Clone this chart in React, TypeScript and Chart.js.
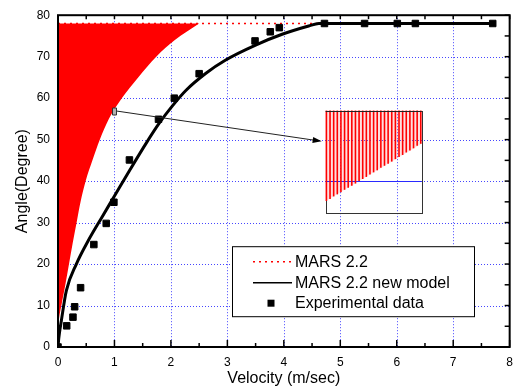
import React, { useEffect, useRef } from "react";
import { Chart, registerables } from "chart.js";

Chart.register(...registerables);

const FONT = "'Liberation Sans', Arial, Helvetica, sans-serif";

// ---- data ----
const xTickLabels = ["0", "1", "2", "3", "4", "5", "6", "7", "8"];
const yTickLabels = ["0", "10", "20", "30", "40", "50", "60", "70", "80"];

// MARS 2.2 (oscillating result: lower envelope of the dense red band, top at 78)
const marsEnvX = [0, 0.02, 0.06, 0.13, 0.195, 0.26, 0.33, 0.4, 0.49, 0.61, 0.74, 0.9, 1.13, 1.42, 1.74, 2.07, 2.5];
const marsEnvY = [4.5, 7.0, 10.0, 15.0, 20.0, 25.0, 30.0, 35.0, 40.0, 45.0, 50.0, 55.0, 60.0, 65.0, 70.0, 74.0, 78.0];
const marsTopX = [0, 7.7];
const marsTopY = [78, 78];

// MARS 2.2 new model
const newModelX = [0, 0.013, 0.06, 0.148, 0.325, 0.53, 0.765, 1.0, 1.265, 1.56, 1.79, 2.03, 2.26, 2.62, 2.97, 3.5, 3.97, 4.44, 4.62, 7.7];
const newModelY = [0, 2.0, 6.4, 13.6, 20.0, 25.5, 31.0, 36.4, 42.5, 49.1, 53.9, 58.2, 61.8, 66.0, 69.2, 72.8, 75.4, 77.4, 78.0, 78.0];

// Experimental data
const expX = [0, 0.154, 0.265, 0.295, 0.4, 0.635, 0.854, 0.99, 1.265, 1.78, 2.06, 2.5, 3.49, 3.76, 3.92, 4.72, 5.43, 6.01, 6.33, 7.7];
const expY = [0, 5.1, 7.2, 9.7, 14.3, 24.7, 29.8, 34.9, 45.1, 54.9, 60.0, 65.9, 73.8, 76.0, 77.0, 78.0, 78.0, 78.0, 78.0, 78.0];

// zoom inset annotation (data coordinates)
const insetXRange = [4.74, 6.44];
const insetYRange = [32.5, 57.0];
const insetBlueY = 40;
const insetLineBottoms = [35.2, 35.7, 36.3, 36.8, 37.3, 37.9, 38.4, 38.9, 39.4, 40.0, 40.5, 41.0, 41.6, 42.1, 42.6, 43.2, 43.7, 44.2, 44.7, 45.3, 45.8, 46.3, 46.9, 47.4, 47.9, 48.5, 49.0];
const arrowFrom = [1.0, 56.9];
const arrowTo = [4.67, 49.6];

const pts = (xs: number[], ys: number[]) => xs.map((v, i) => ({ x: v, y: ys[i] }));

const decor = {
  id: "decor",
  beforeDatasetsDraw(chart: any) {
    const { ctx, chartArea: a, scales } = chart;
    const x = scales.x, y = scales.y;
    ctx.save();
    ctx.strokeStyle = "rgba(50,50,255,0.9)";
    ctx.lineWidth = 1;
    ctx.setLineDash([1, 2]);
    x.ticks.forEach((t: any) => {
      if (t.value <= x.min || t.value >= x.max) return;
      const px = Math.round(x.getPixelForValue(t.value)) + 0.5;
      ctx.beginPath(); ctx.moveTo(px, a.top); ctx.lineTo(px, a.bottom); ctx.stroke();
    });
    y.ticks.forEach((t: any) => {
      if (t.value <= y.min || t.value >= y.max) return;
      const py = Math.round(y.getPixelForValue(t.value)) + 0.5;
      ctx.beginPath(); ctx.moveTo(a.left, py); ctx.lineTo(a.right, py); ctx.stroke();
    });
    ctx.restore();
  },
  afterDatasetsDraw(chart: any) {
    const { ctx, chartArea: a, scales } = chart;
    const x = scales.x, y = scales.y;
    ctx.save();

    // ---- inset ----
    const L = x.getPixelForValue(insetXRange[0]);
    const R = x.getPixelForValue(insetXRange[1]);
    const T = y.getPixelForValue(insetYRange[1]);
    const B = y.getPixelForValue(insetYRange[0]);
    const n = insetLineBottoms.length;
    ctx.fillStyle = "rgba(255,110,110,0.22)";
    ctx.beginPath();
    ctx.moveTo(L, T); ctx.lineTo(R, T);
    ctx.lineTo(R, y.getPixelForValue(insetLineBottoms[n - 1]));
    ctx.lineTo(L, y.getPixelForValue(insetLineBottoms[0]));
    ctx.closePath(); ctx.fill();
    ctx.strokeStyle = "#333"; ctx.lineWidth = 1;
    ctx.strokeRect(Math.round(L) + 0.5, Math.round(T) + 0.5, Math.round(R - L), Math.round(B - T));
    const by = Math.round(y.getPixelForValue(insetBlueY)) + 0.5;
    ctx.strokeStyle = "#2a2aff";
    ctx.beginPath(); ctx.moveTo(L, by); ctx.lineTo(R, by); ctx.stroke();
    ctx.strokeStyle = "#ff0000"; ctx.lineWidth = 1.6;
    insetLineBottoms.forEach((b, i) => {
      const px = L + 0.8 + ((R - L - 1.6) * i) / (n - 1);
      ctx.beginPath(); ctx.moveTo(px, T); ctx.lineTo(px, y.getPixelForValue(b)); ctx.stroke();
    });
    ctx.strokeStyle = "#222"; ctx.lineWidth = 1;
    ctx.beginPath(); ctx.moveTo(L, Math.round(T) + 0.5); ctx.lineTo(R, Math.round(T) + 0.5); ctx.stroke();

    // ---- arrow ----
    const ax0 = x.getPixelForValue(arrowFrom[0]), ay0 = y.getPixelForValue(arrowFrom[1]);
    const ax1 = x.getPixelForValue(arrowTo[0]), ay1 = y.getPixelForValue(arrowTo[1]);
    const ang = Math.atan2(ay1 - ay0, ax1 - ax0);
    ctx.strokeStyle = "#222"; ctx.lineWidth = 1;
    ctx.beginPath(); ctx.moveTo(ax0 + 2, ay0); ctx.lineTo(ax1 - 6 * Math.cos(ang), ay1 - 6 * Math.sin(ang)); ctx.stroke();
    ctx.fillStyle = "#000";
    ctx.beginPath();
    ctx.moveTo(ax1, ay1);
    ctx.lineTo(ax1 - 9 * Math.cos(ang) + 3 * Math.sin(ang), ay1 - 9 * Math.sin(ang) - 3 * Math.cos(ang));
    ctx.lineTo(ax1 - 9 * Math.cos(ang) - 3 * Math.sin(ang), ay1 - 9 * Math.sin(ang) + 3 * Math.cos(ang));
    ctx.closePath(); ctx.fill();
    // small marker at arrow start
    ctx.fillStyle = "#b0b0b0"; ctx.strokeStyle = "#333";
    ctx.beginPath(); ctx.rect(Math.round(ax0) - 2 + 0.5, Math.round(ay0) - 3.5 + 0.5, 4, 7); ctx.fill(); ctx.stroke();

    // ---- legend ----
    const lx = a.left + 174, ly = a.top + 231, lw = 242, lh = 70;
    ctx.fillStyle = "#fff";
    ctx.fillRect(lx, ly, lw, lh);
    ctx.strokeStyle = "#000"; ctx.lineWidth = 1;
    ctx.strokeRect(lx + 0.5, ly + 0.5, lw, lh);
    const rows = [ly + 15.5, ly + 36.5, ly + 57];
    const ds = chart.data.datasets;
    ctx.strokeStyle = "#ff0000"; ctx.lineWidth = 1.6; ctx.setLineDash([2, 4]);
    ctx.beginPath(); ctx.moveTo(lx + 21, rows[0]); ctx.lineTo(lx + 60, rows[0]); ctx.stroke();
    ctx.setLineDash([]);
    ctx.strokeStyle = "#000"; ctx.lineWidth = 1.5;
    ctx.beginPath(); ctx.moveTo(lx + 21, rows[1]); ctx.lineTo(lx + 60, rows[1]); ctx.stroke();
    ctx.fillStyle = "#000";
    ctx.fillRect(lx + 39 - 3.5, rows[2] - 3.5, 7, 7);
    ctx.font = `16px ${FONT}`;
    ctx.textBaseline = "middle"; ctx.textAlign = "left";
    const labels = [ds[1].label, ds[2].label, ds[3].label];
    labels.forEach((t: string, i: number) => ctx.fillText(t, lx + 63, rows[i] + 0.5));

    // ---- frame & ticks ----
    ctx.strokeStyle = "#000"; ctx.lineWidth = 2;
    ctx.strokeRect(a.left, a.top, a.right - a.left, a.bottom - a.top);
    ctx.lineWidth = 1.5;
    const xv = x.ticks.map((t: any) => t.value);
    xv.forEach((v: number, i: number) => {
      const px = x.getPixelForValue(v);
      ctx.beginPath(); ctx.moveTo(px, a.bottom); ctx.lineTo(px, a.bottom - 7); ctx.stroke();
      ctx.beginPath(); ctx.moveTo(px, a.top); ctx.lineTo(px, a.top + 4); ctx.stroke();
      if (i < xv.length - 1) {
        const pm = x.getPixelForValue((v + xv[i + 1]) / 2);
        ctx.beginPath(); ctx.moveTo(pm, a.bottom); ctx.lineTo(pm, a.bottom - 4); ctx.stroke();
        ctx.beginPath(); ctx.moveTo(pm, a.top); ctx.lineTo(pm, a.top + 4); ctx.stroke();
      }
    });
    const yv = y.ticks.map((t: any) => t.value);
    yv.forEach((v: number, i: number) => {
      const py = y.getPixelForValue(v);
      ctx.beginPath(); ctx.moveTo(a.right, py); ctx.lineTo(a.right - 5, py); ctx.stroke();
      if (i < yv.length - 1) {
        const pm = y.getPixelForValue((v + yv[i + 1]) / 2);
        ctx.beginPath(); ctx.moveTo(a.right, pm); ctx.lineTo(a.right - 5, pm); ctx.stroke();
      }
    });
    ctx.restore();
  },
};

export default function App() {
  const ref = useRef<HTMLCanvasElement | null>(null);
  useEffect(() => {
    if (!ref.current) return;
    const chart = new Chart(ref.current, {
      type: "scatter",
      data: {
        datasets: [
          {
            label: "MARS 2.2 band",
            data: pts(marsEnvX, marsEnvY),
            showLine: true,
            borderWidth: 0,
            borderColor: "rgba(0,0,0,0)",
            backgroundColor: "#ff0000",
            fill: { value: 78 },
            pointRadius: 0,
            cubicInterpolationMode: "monotone",
            order: 4,
          } as any,
          {
            label: "MARS 2.2",
            data: pts(marsTopX, marsTopY),
            showLine: true,
            borderColor: "#ff0000",
            borderWidth: 1.6,
            borderDash: [2, 4],
            pointRadius: 0,
            fill: false,
            order: 3,
          },
          {
            label: "MARS 2.2 new model",
            data: pts(newModelX, newModelY),
            showLine: true,
            borderColor: "#000",
            borderWidth: 3,
            pointRadius: 0,
            fill: false,
            cubicInterpolationMode: "monotone",
            order: 2,
          } as any,
          {
            label: "Experimental data",
            data: pts(expX, expY),
            showLine: false,
            pointStyle: "rect",
            pointRadius: 4.6,
            borderWidth: 1,
            borderColor: "#000",
            backgroundColor: "#000",
            order: 1,
          },
        ],
      },
      options: {
        responsive: false,
        animation: false,
        events: [],
        layout: { padding: { left: 0, right: 9, top: 12, bottom: 0 } },
        plugins: { legend: { display: false }, tooltip: { enabled: false } },
        scales: {
          x: {
            type: "linear",
            min: 0,
            max: 8,
            grid: { display: false, drawTicks: false },
            border: { display: false },
            ticks: {
              stepSize: 1,
              padding: 8,
              color: "#000",
              font: { family: FONT, size: 12 },
              callback: (v: any, i: number) => xTickLabels[i] ?? String(v),
            },
            title: {
              display: true,
              text: "Velocity (m/sec)",
              color: "#000",
              font: { family: FONT, size: 16 },
              padding: { top: 0, bottom: 4 },
            },
            afterFit: (s: any) => { s.height = 45; },
          },
          y: {
            type: "linear",
            min: 0,
            max: 80,
            grid: { display: false, drawTicks: false },
            border: { display: false },
            ticks: {
              stepSize: 10,
              padding: 8,
              color: "#000",
              font: { family: FONT, size: 12 },
              callback: (v: any, i: number) => yTickLabels[i] ?? String(v),
            },
            title: {
              display: true,
              text: "Angle(Degree)",
              color: "#000",
              font: { family: FONT, size: 16 },
              padding: { top: 13, bottom: 0 },
            },
            afterFit: (s: any) => { s.width = 58; },
          },
        },
      } as any,
      plugins: [decor],
    });
    return () => chart.destroy();
  }, []);
  return (
    <div style={{ position: "absolute", left: 0, top: 0, width: 521, height: 392, background: "#fff" }}>
      <canvas ref={ref} width={521} height={392} style={{ display: "block" }} />
    </div>
  );
}
